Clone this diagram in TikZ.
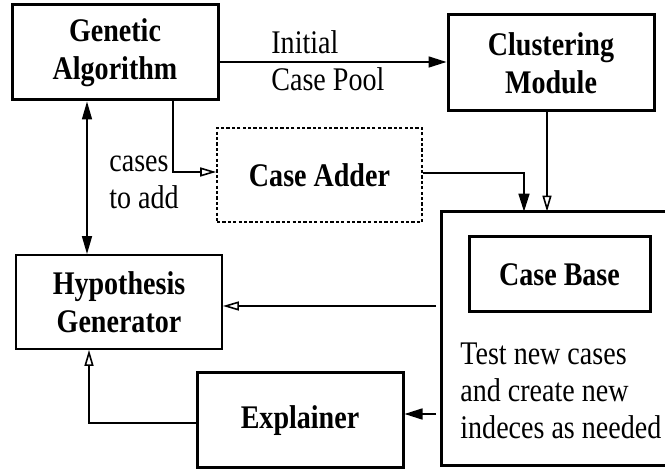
\documentclass[tikz,border=0pt]{standalone}
\usepackage{fontspec}
\setmainfont{Liberation Serif}[FakeStretch=0.85]
\usetikzlibrary{arrows.meta}
\begin{document}
\begin{tikzpicture}[x=0.5pt,y=-0.5pt,
  every node/.style={font=\fontsize{16.5}{18.5}\selectfont, inner sep=0pt},
  box/.style={draw, rectangle, align=center, font=\fontsize{16.5}{19}\selectfont\bfseries},
  thickbox/.style={box, line width=1.5pt},
  thinbox/.style={box, line width=0.9pt},
  dashbox/.style={box, line width=0.8pt, dash pattern=on 1.6pt off 1.1pt},
  lbl/.style={align=left, anchor=base west},
  conn/.style={line width=0.8pt},
  fa/.style={conn, -{Triangle[length=9pt,width=5.5pt]}},
  fab/.style={conn, {Triangle[length=9pt,width=5pt]}-{Triangle[length=9pt,width=5pt]}},
  oa/.style={conn, -{Triangle[open,length=8pt,width=4.5pt]}}
]
\useasboundingbox (0,0) rectangle (665,469);

\node[thickbox, minimum width=103pt, minimum height=47.5pt] (ga) at (115,52.5) {Genetic\\Algorithm};
\node[thickbox, minimum width=103pt, minimum height=48pt] (cm) at (551,63) {Clustering\\Module};
\node[dashbox, minimum width=102.5pt, minimum height=47pt] (ca) at (319.5,175) {Case Adder};
\node[thinbox, minimum width=103pt, minimum height=47pt] (hg) at (119,302) {Hypothesis\\Generator};
\node[thickbox, minimum width=103pt, minimum height=47.5pt] (ex) at (300,420.5) {Explainer};

% outer case base region (right side runs off the picture)
\node[minimum width=114pt, minimum height=126.5pt] (cbo) at (556,338.5) {};
\draw[line width=1.5pt] (cbo.north east) -- (cbo.north west) -- (cbo.south west) -- (cbo.south east);
\node[thickbox, minimum width=90.5pt, minimum height=37.5pt] (cb) at (559.5,274.5) {Case Base};
\node[lbl] (cbt) at (460,439) {Test new cases\\and create new\\indeces as needed};

% connectors
\draw[fa] (ga.east |- 0,62) -- (cm.west |- 0,62);
\node[lbl] (ip) at (271,91) {Initial\\Case Pool};

\draw[oa] (cm.south -| 547,0) -- (cbo.north -| 547,0);

\coordinate (gab) at (173,100);
\draw[oa] (gab) |- (ca.west |- 0,172);
\node[lbl] (cta) at (109,209) {cases\\to add};

\draw[fa] (ca.east |- 0,173) -| (cbo.north -| 524,0);

\draw[fab] (ga.south -| 87,0) -- (hg.north -| 87,0);

\coordinate (cbl1) at (436,306);
\draw[oa] (cbl1) -- (hg.east |- cbl1);

\coordinate (cbl2) at (436,414);
\draw[fa] (cbl2) -- (ex.east |- cbl2);

\draw[oa] (ex.west |- 0,423) -| (hg.south -| 89,0);
\end{tikzpicture}
\end{document}
